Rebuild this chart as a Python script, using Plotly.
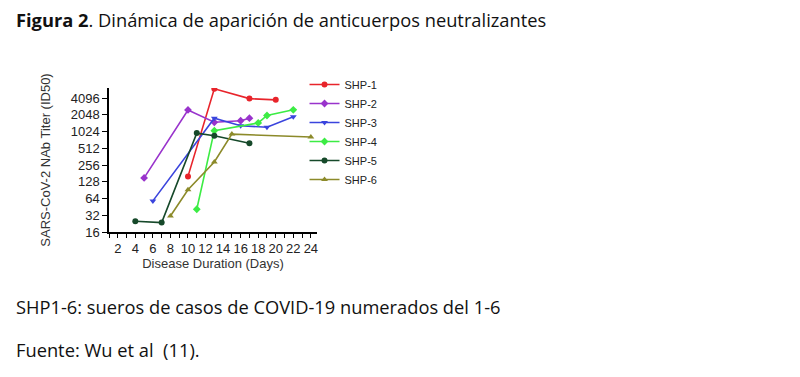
import math
import plotly.graph_objects as go

# ---- data ----
series_names = ["SHP-1", "SHP-2", "SHP-3", "SHP-4", "SHP-5", "SHP-6"]
shp1_days = [10, 13, 17, 20]
shp1_titer = [160, 6000, 4000, 3800]
shp2_days = [5, 10, 13, 16, 17]
shp2_titer = [150, 2500, 1500, 1600, 1780]
shp3_days = [6, 13, 16, 19, 22]
shp3_titer = [58, 1780, 1300, 1220, 1880]
shp4_days = [11, 13, 18, 19, 22]
shp4_titer = [41, 1060, 1460, 1990, 2520]
shp5_days = [4, 7, 11, 13, 17]
shp5_titer = [25, 23.6, 960, 860, 630]
shp6_days = [8, 10, 13, 15, 24]
shp6_titer = [31, 92, 290, 920, 815]

y_tick_vals = [16, 32, 64, 128, 256, 512, 1024, 2048, 4096]
x_tick_vals = [2, 4, 6, 8, 10, 12, 14, 16, 18, 20, 22, 24]

title_text = "<b>Figura 2</b>. Dinámica de aparición de anticuerpos neutralizantes"
note_text = "SHP1-6: sueros de casos de COVID-19 numerados del 1-6"
source_text = "Fuente: Wu et al&nbsp;&nbsp;(11)."

colors = ["#e8242b", "#9933cc", "#3a44dd", "#3cec44", "#16492a", "#8c8a2a"]
symbols = ["circle", "diamond", "triangle-down", "diamond", "circle", "triangle-up"]
days = [shp1_days, shp2_days, shp3_days, shp4_days, shp5_days, shp6_days]
titers = [shp1_titer, shp2_titer, shp3_titer, shp4_titer, shp5_titer, shp6_titer]

fig = go.Figure()
for name, xs, ys, c, s in zip(series_names, days, titers, colors, symbols):
    fig.add_trace(go.Scatter(
        x=xs, y=ys, name=name, mode="lines+markers",
        line=dict(color=c, width=1.6),
        marker=dict(color=c, symbol=s, size=6),
    ))

axis_font = dict(family="Liberation Sans, Arial, sans-serif", size=13, color="#222")

fig.update_layout(
    width=792, height=369,
    margin=dict(l=100.5, r=482.8, t=80.3, b=144.7),
    paper_bgcolor="white", plot_bgcolor="white",
    showlegend=True,
    legend=dict(
        x=0.94, y=1.125, xanchor="left", yanchor="top",
        font=dict(family="Liberation Sans, Arial, sans-serif", size=11, color="#222"),
        bgcolor="rgba(0,0,0,0)", tracegroupgap=0, itemwidth=30,
    ),
    font=axis_font,
)

fig.update_xaxes(
    range=[1, 24.7], tickvals=x_tick_vals, tickangle=0,
    showline=True, linecolor="black", linewidth=1.5,
    ticks="outside", ticklen=4, tickwidth=1.3, tickcolor="black",
    minor=dict(dtick=1, tick0=1, ticks="outside", ticklen=4, tickwidth=1.3, tickcolor="black"),
    showgrid=False, zeroline=False,
    tickfont=axis_font,
    title=dict(text="Disease Duration (Days)", font=dict(family="Liberation Sans, Arial, sans-serif", size=13, color="#333"), standoff=4),
)
fig.update_yaxes(
    type="log", range=[math.log10(16), 12.6 * math.log10(2)],
    tickvals=y_tick_vals, ticktext=[str(v) for v in y_tick_vals],
    showline=True, linecolor="black", linewidth=1.5,
    ticks="outside", ticklen=5, tickwidth=1.3, tickcolor="black",
    showgrid=False, zeroline=False,
    tickfont=axis_font,
    title=dict(text="SARS-CoV-2 NAb Titer (ID50)", font=dict(family="Liberation Sans, Arial, sans-serif", size=13, color="#333"), standoff=17),
)

text_font = dict(family="Open Sans, Noto Sans, sans-serif", size=18.3, color="#111")
fig.add_annotation(text=title_text, xref="paper", yref="paper", x=-0.455, y=1.479,
                   xanchor="left", yanchor="middle", showarrow=False, font=text_font)
fig.add_annotation(text=note_text, xref="paper", yref="paper", x=-0.455, y=-0.514,
                   xanchor="left", yanchor="middle", showarrow=False, font=text_font)
fig.add_annotation(text=source_text, xref="paper", yref="paper", x=-0.455, y=-0.819,
                   xanchor="left", yanchor="middle", showarrow=False, font=text_font)

fig.write_html("out.html")
